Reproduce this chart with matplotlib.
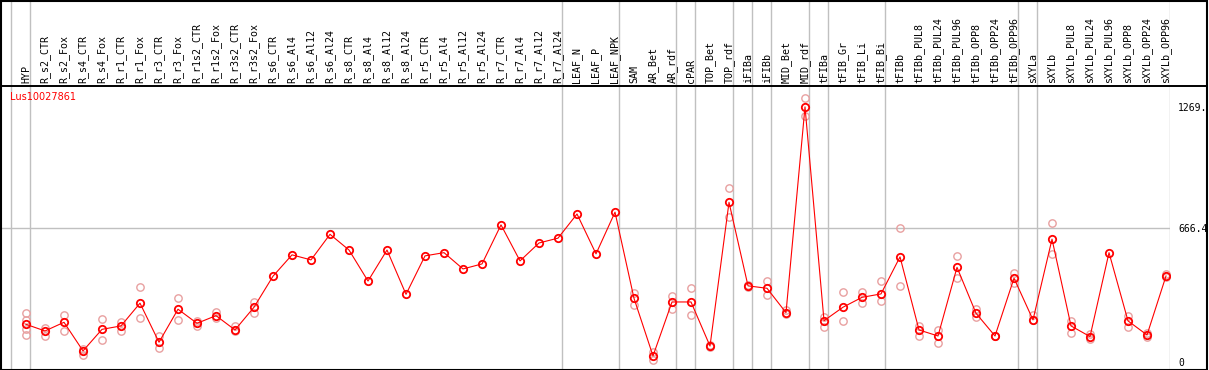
import matplotlib
matplotlib.use("Agg")
import matplotlib.pyplot as plt
from matplotlib.lines import Line2D
from matplotlib.patches import Rectangle
import matplotlib.transforms as mtrans

# sample names along the top, one column each
labels = ["HYP", "R_s2_CTR", "R_s2_Fox", "R_s4_CTR", "R_s4_Fox", "R_r1_CTR", "R_r1_Fox",
          "R_r3_CTR", "R_r3_Fox", "R_r1s2_CTR", "R_r1s2_Fox", "R_r3s2_CTR", "R_r3s2_Fox",
          "R_s6_CTR", "R_s6_Al4", "R_s6_Al12", "R_s6_Al24", "R_s8_CTR", "R_s8_Al4",
          "R_s8_Al12", "R_s8_Al24", "R_r5_CTR", "R_r5_Al4", "R_r5_Al12", "R_r5_Al24",
          "R_r7_CTR", "R_r7_Al4", "R_r7_Al12", "R_r7_Al24", "LEAF_N", "LEAF_P", "LEAF_NPK",
          "SAM", "AR_Bet", "AR_rdf", "cPAR", "TOP_Bet", "TOP_rdf", "iFIBa", "iFIBb",
          "MID_Bet", "MID_rdf", "tFIBa", "tFIB_Gr", "tFIB_Li", "tFIB_Bi", "tFIBb",
          "tFIBb_PUL8", "tFIBb_PUL24", "tFIBb_PUL96", "tFIBb_OPP8", "tFIBb_OPP24",
          "tFIBb_OPP96", "sXYLa", "sXYLb", "sXYLb_PUL8", "sXYLb_PUL24", "sXYLb_PUL96",
          "sXYLb_OPP8", "sXYLb_OPP24", "sXYLb_OPP96"]

# mean expression per sample
means = [189, 156, 199, 57, 164, 181, 294, 100, 264, 194, 232, 161, 274,
         428, 534, 509, 636, 558, 404, 558, 338, 529, 545, 464, 489, 683, 504, 593, 617,
         737, 539, 746,
         318, 32, 300, 300, 81, 795, 380, 368, 247, 1269, 207, 274, 323, 340, 524,
         161, 131, 472, 244, 131, 418, 211, 612, 181, 128, 545, 206, 136, 429]

# individual replicates (pale circles), empty where they sit under the mean
reps = [[245, 211, 166, 136], [172, 133], [235, 157], [67, 37], [214, 110], [202, 157],
        [373, 219], [133, 70], [318, 211], [207, 182], [252, 222], [181, 157], [302, 244],
        [], [], [], [], [], [], [], [], [], [], [], [], [], [], [], [],
        [], [], [],
        [343, 285], [53, 12], [330, 267], [368, 234], [86, 76], [865, 724], [384, 376],
        [404, 333], [260, 239], [1314, 1224], [227, 177], [350, 204], [350, 294],
        [404, 307], [666, 380],
        [182, 131], [161, 98], [527, 421], [264, 227], [132, 129], [446, 393], [235, 211],
        [691, 539], [207, 148], [141, 115], [], [231, 177], [145, 125], [439, 423]]

# last column of each tissue group (gray separators)
group_ends = [-1, 0, 28, 31, 34, 35, 37, 38, 39, 41, 42, 45, 52, 53, 60]

ytick_vals = [0, 666.4, 1269]
ytick_text = ["0", "666.4", "1269."]
gene = "Lus10027861"

W, H = 1209, 370
fig = plt.figure(figsize=(W / 100, H / 100), dpi=100)
mono = "DejaVu Sans Mono"

# one axes covering header + plot, columns 19 px apart
ax = fig.add_axes([1 / W, 1 / H, 1169 / W, 369 / H])
ax.set_xlim(-1.316, 60.21)
ax.set_ylim(-33, 1800)
for s in ax.spines.values():
    s.set_visible(False)

gray = "#c0c0c0"
for g in group_ends:
    ax.axvline(g + 0.22, color=gray, lw=1.0, zorder=1)
ax.axhline(666.4, color=gray, lw=1.0, zorder=1)

xs = list(range(len(labels)))
rx, ry = [], []
for i, r in enumerate(reps):
    for v in r:
        rx.append(i)
        ry.append(v)
ax.plot(rx, ry, "o", ms=5.3, mfc="none", mec="#e8a0a0", mew=1.0, zorder=2)
ax.plot(xs, means, "-", color="red", lw=0.8, zorder=3)
ax.plot(xs, means, "o", ms=5.3, mfc="none", mec="red", mew=1.3, zorder=4)

ax.set_xticks([])
ax.set_yticks(ytick_vals)
ax.set_yticklabels(ytick_text, fontfamily=mono, fontsize=7)
ax.yaxis.tick_right()
ax.tick_params(axis="y", length=0, pad=6)

# rotated sample labels in the header strip
trans = mtrans.blended_transform_factory(ax.transData, ax.transAxes)
for i, lab in enumerate(labels):
    ax.text(i, (369 - 83) / 369, lab, transform=trans, rotation=90, ha="center",
            va="bottom", fontfamily=mono, fontsize=7.2, color="black")

fig.text(10 / W, 1 - 97 / H, gene, color="red", fontsize=7, va="center", ha="left")

# header rule and outer frame
fig.add_artist(Line2D([1 / W, 1207 / W], [1 - 85.5 / H, 1 - 85.5 / H], color="black", lw=1.4))
fig.add_artist(Rectangle((1 / W, 0.5 / H), 1206 / W, 369 / H, fill=False,
                         edgecolor="black", lw=1.5))

fig.savefig("out.png", dpi=100)
